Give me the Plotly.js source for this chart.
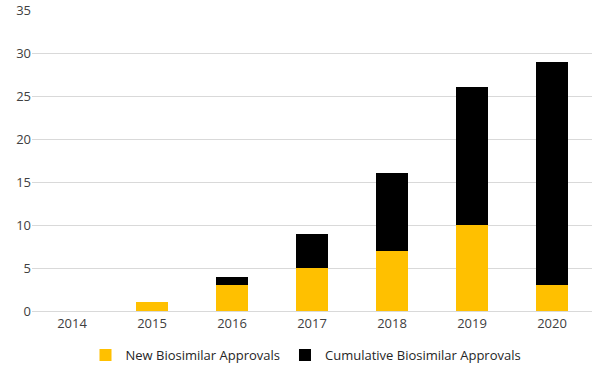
<!DOCTYPE html>
<html><head><meta charset="utf-8">
<script src="https://cdn.plot.ly/plotly-3.0.1.min.js"></script>
<style>html,body{margin:0;padding:0;background:#fff}#chart{width:600px;height:373px}</style>
</head><body><div id="chart"></div>
<script>
const years = ['2014','2015','2016','2017','2018','2019','2020'];
const newApprovals = [0, 1, 3, 5, 7, 10, 3];
const cumulativeApprovals = [0, 0, 1, 4, 9, 16, 26];
const yTicks = [0, 5, 10, 15, 20, 25, 30, 35];

const traces = [
  {type:'bar', x: years, y: newApprovals, name:'New Biosimilar Approvals', marker:{color:'#FFC000'}},
  {type:'bar', x: years, y: cumulativeApprovals, name:'Cumulative Biosimilar Approvals', marker:{color:'#000000'}}
];
const layout = {
  width:600, height:373,
  margin:{l:32, r:8, t:10, b:62},
  barmode:'stack', bargap:0.6,
  paper_bgcolor:'#fff', plot_bgcolor:'#fff',
  font:{family:'Open Sans, Liberation Sans, sans-serif', size:13, color:'#404040'},
  xaxis:{type:'category', showgrid:false, showline:true, linecolor:'#d9d9d9', linewidth:1, ticks:'', tickfont:{size:13, color:'#404040'}, automargin:false},
  yaxis:{range:[0,35], tickvals:yTicks, showgrid:true, gridcolor:'#d9d9d9', gridwidth:1, zeroline:false, ticks:'', ticklen:0, tickfont:{size:13, color:'#404040'}, automargin:false},
  showlegend:true,
  legend:{orientation:'h', xref:'container', yref:'container', x:0.51, xanchor:'center', y:0.048, yanchor:'middle', font:{size:13, color:'#262626'}, traceorder:'normal', itemwidth:30}
};
Plotly.newPlot('chart', traces, layout, {displayModeBar:false, staticPlot:true});
</script></body></html>
